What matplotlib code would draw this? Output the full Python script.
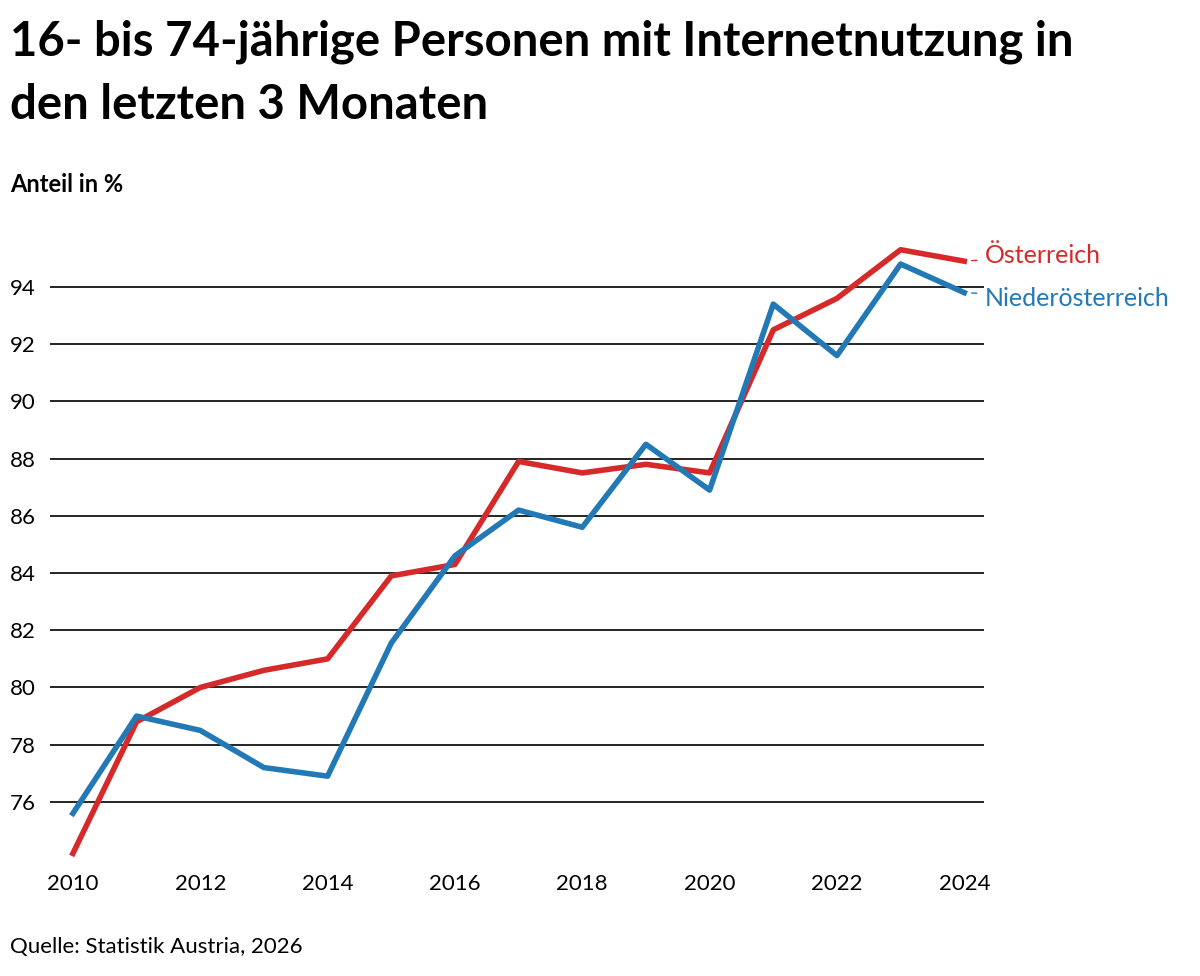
import matplotlib.pyplot as plt

years = list(range(2010, 2025))
oesterreich = [74.2, 78.8, 80.0, 80.6, 81.0, 83.9, 84.3, 87.9, 87.5, 87.8, 87.5, 92.5, 93.6, 95.3, 94.9]
niederoesterreich = [75.6, 79.0, 78.5, 77.2, 76.9, 81.55, 84.6, 86.2, 85.6, 88.5, 86.9, 93.4, 91.6, 94.8, 93.8]
yticks = [76, 78, 80, 82, 84, 86, 88, 90, 92, 94]
xticks = [2010, 2012, 2014, 2016, 2018, 2020, 2022, 2024]

red = '#d62a2a'
blue = '#2379b5'
plt.rcParams['font.family'] = ['Lato', 'DejaVu Sans']

W, H = 1200, 976
fig = plt.figure(figsize=(12, 9.76), dpi=100)
ax = fig.add_axes([50 / W, 1 - 860 / H, 934 / W, 620 / H])

for y in yticks:
    ax.axhline(y, color='black', lw=1.2, zorder=1)
ax.plot(years, oesterreich, color=red, lw=4, zorder=3)
ax.plot(years, niederoesterreich, color=blue, lw=4, zorder=4)

ax.set_xlim(2009.64, 2024.31)
ax.set_ylim(73.97, 95.64)
ax.set_yticks(yticks)
ax.set_xticks(xticks)
ax.tick_params(length=0, labelsize=16)
ax.tick_params(axis='x', pad=10)
ax.tick_params(axis='y', pad=10)
for s in ax.spines.values():
    s.set_visible(False)

ax.annotate('Österreich', xy=(years[-1], oesterreich[-1]), xytext=(15, 4),
            textcoords='offset points', color=red, fontsize=18, va='center',
            arrowprops=dict(arrowstyle='-', color=red, ls='--', lw=1, shrinkA=4, shrinkB=5),
            annotation_clip=False)
ax.annotate('Niederösterreich', xy=(years[-1], niederoesterreich[-1]), xytext=(15, -4),
            textcoords='offset points', color=blue, fontsize=18, va='center',
            arrowprops=dict(arrowstyle='-', color=blue, ls='--', lw=1, shrinkA=4, shrinkB=5),
            annotation_clip=False)

fig.text(10 / W, 1 - 42 / H, '16- bis 74-jährige Personen mit Internetnutzung in',
         fontsize=34, fontweight='bold', va='center')
fig.text(10 / W, 1 - 105 / H, 'den letzten 3 Monaten',
         fontsize=34, fontweight='bold', va='center')
fig.text(10 / W, 1 - 185 / H, 'Anteil in %', fontsize=17, fontweight='bold', va='center')
fig.text(10 / W, 1 - 947 / H, 'Quelle: Statistik Austria, 2026', fontsize=16, va='center')

fig.savefig('out.png', dpi=100)
